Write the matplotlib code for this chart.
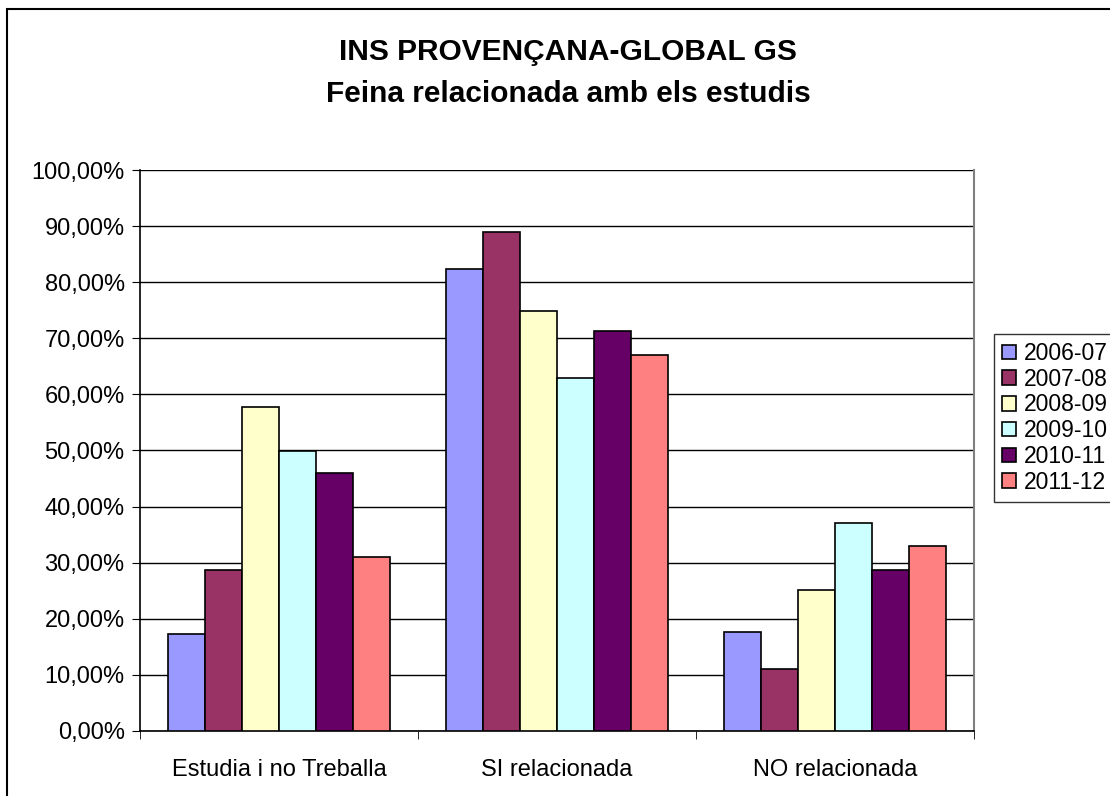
import numpy as np
import matplotlib.pyplot as plt
from matplotlib.patches import Rectangle
from matplotlib.ticker import FuncFormatter

plt.rcParams['font.family'] = ['Liberation Sans', 'DejaVu Sans']

categories = ["Estudia i no Treballa", "SI relacionada", "NO relacionada"]
years = ["2006-07", "2007-08", "2008-09", "2009-10", "2010-11", "2011-12"]
colors = ["#9999FF", "#993366", "#FFFFCC", "#CCFFFF", "#660066", "#FF8080"]

v_2006 = [17.3, 82.3, 17.6]
v_2007 = [28.7, 88.9, 11.1]
v_2008 = [57.8, 74.9, 25.1]
v_2009 = [49.9, 62.9, 37.1]
v_2010 = [46.0, 71.3, 28.7]
v_2011 = [31.0, 67.0, 33.0]
series = [v_2006, v_2007, v_2008, v_2009, v_2010, v_2011]

fig = plt.figure(figsize=(11.1, 7.96), dpi=100)
ax = fig.add_axes([0.1261, 0.0817, 0.7514, 0.7047])

x = np.arange(len(categories))
w = 0.8 / len(years)
for i, (vals, c, lab) in enumerate(zip(series, colors, years)):
    ax.bar(x - 0.4 + w * (i + 0.5), vals, width=w, color=c, edgecolor="black",
           linewidth=1.2, label=lab, zorder=3)

ax.set_xlim(-0.5, 2.5)
ax.set_ylim(0, 100)
ax.set_yticks(np.arange(0, 101, 10))
ax.yaxis.set_major_formatter(FuncFormatter(lambda v, p: f"{v:.2f}".replace(".", ",") + "%"))
ax.yaxis.grid(True, color="black", linewidth=1)
ax.set_axisbelow(True)

ax.set_xticks(x)
ax.set_xticklabels(categories)
ax.set_xticks([-0.5, 0.5, 1.5, 2.5], minor=True)
ax.tick_params(axis="x", which="major", length=0, pad=20, labelsize=17)
ax.tick_params(axis="x", which="minor", length=6, direction="out", color="black")
ax.tick_params(axis="y", length=6, direction="out", labelsize=17, pad=5)

for s in ["left", "bottom"]:
    ax.spines[s].set_color("black")
    ax.spines[s].set_linewidth(1.2)
ax.spines["right"].set_color("#808080")
ax.spines["right"].set_linewidth(1.5)
ax.spines["top"].set_visible(False)

fig.text(0.512, 0.9345, "INS PROVENÇANA-GLOBAL GS", ha="center", va="center",
         fontsize=21.5, fontweight="bold")
fig.text(0.512, 0.8825, "Feina relacionada amb els estudis", ha="center", va="center",
         fontsize=21.5, fontweight="bold")

leg = fig.legend(loc="upper left", bbox_to_anchor=(0.8955, 0.5805), frameon=True,
                 fancybox=False, edgecolor="black", fontsize=16.5, handlelength=0.6,
                 handleheight=0.6, handletextpad=0.35, labelspacing=0.12,
                 borderpad=0.35, borderaxespad=0)
leg.get_frame().set_linewidth(1.0)

fig.patches.append(Rectangle((0.0063, -0.1), 1.2, 1.0887, transform=fig.transFigure,
                             fill=False, edgecolor="black", linewidth=1.5))

fig.savefig("out.png", dpi=100)
